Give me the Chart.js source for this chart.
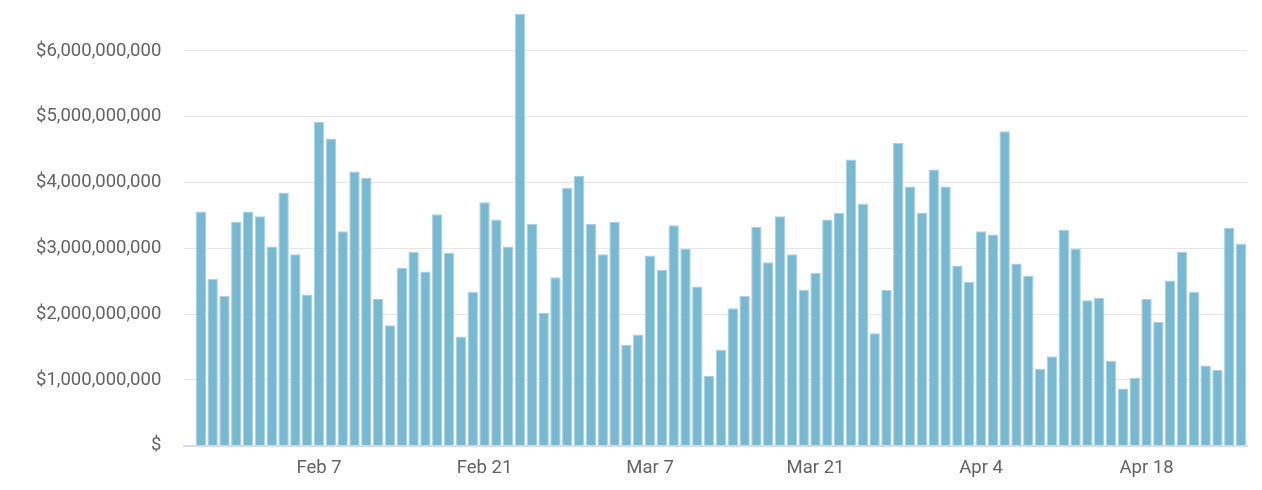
<!DOCTYPE html>
<html>
<head>
<meta charset="utf-8">
<script src="https://cdn.jsdelivr.net/npm/chart.js@4"></script>
<style>
  html, body { margin: 0; padding: 0; background: #ffffff; }
  #wrap { width: 1262px; height: 490px; }
</style>
</head>
<body>
<div id="wrap"><canvas id="c" width="1262" height="490"></canvas></div>
<script>
const categories = [
  "Jan 28","Jan 29","Jan 30","Jan 31",
  "Feb 1","Feb 2","Feb 3","Feb 4","Feb 5","Feb 6","Feb 7","Feb 8","Feb 9","Feb 10",
  "Feb 11","Feb 12","Feb 13","Feb 14","Feb 15","Feb 16","Feb 17","Feb 18","Feb 19","Feb 20",
  "Feb 21","Feb 22","Feb 23","Feb 24","Feb 25","Feb 26","Feb 27","Feb 28",
  "Mar 1","Mar 2","Mar 3","Mar 4","Mar 5","Mar 6","Mar 7","Mar 8","Mar 9","Mar 10",
  "Mar 11","Mar 12","Mar 13","Mar 14","Mar 15","Mar 16","Mar 17","Mar 18","Mar 19","Mar 20",
  "Mar 21","Mar 22","Mar 23","Mar 24","Mar 25","Mar 26","Mar 27","Mar 28","Mar 29","Mar 30","Mar 31",
  "Apr 1","Apr 2","Apr 3","Apr 4","Apr 5","Apr 6","Apr 7","Apr 8","Apr 9","Apr 10",
  "Apr 11","Apr 12","Apr 13","Apr 14","Apr 15","Apr 16","Apr 17","Apr 18","Apr 19","Apr 20",
  "Apr 21","Apr 22","Apr 23","Apr 24","Apr 25"
];

const values = [
  3.56e9, 2.54e9, 2.28e9, 3.40e9, 3.56e9, 3.49e9, 3.03e9, 3.85e9, 2.91e9, 2.30e9,
  4.92e9, 4.67e9, 3.26e9, 4.17e9, 4.07e9, 2.23e9, 1.83e9, 2.70e9, 2.95e9, 2.65e9,
  3.52e9, 2.93e9, 1.66e9, 2.34e9, 3.70e9, 3.44e9, 3.03e9, 6.56e9, 3.37e9, 2.02e9,
  2.56e9, 3.92e9, 4.10e9, 3.37e9, 2.91e9, 3.40e9, 1.53e9, 1.69e9, 2.89e9, 2.67e9,
  3.35e9, 3.00e9, 2.42e9, 1.06e9, 1.46e9, 2.09e9, 2.28e9, 3.33e9, 2.79e9, 3.49e9,
  2.91e9, 2.37e9, 2.63e9, 3.44e9, 3.54e9, 4.35e9, 3.68e9, 1.71e9, 2.37e9, 4.60e9,
  3.94e9, 3.54e9, 4.20e9, 3.94e9, 2.74e9, 2.49e9, 3.26e9, 3.21e9, 4.78e9, 2.77e9,
  2.58e9, 1.17e9, 1.36e9, 3.28e9, 3.00e9, 2.21e9, 2.25e9, 1.29e9, 0.87e9, 1.03e9,
  2.23e9, 1.88e9, 2.51e9, 2.95e9, 2.34e9, 1.22e9, 1.15e9, 3.31e9, 3.07e9
];

const xTickLabels = ["Feb 7", "Feb 21", "Mar 7", "Mar 21", "Apr 4", "Apr 18"];
const yTickValues = [0, 1e9, 2e9, 3e9, 4e9, 5e9, 6e9];

const points = values.map((v, i) => ({ x: i, y: v }));
const xTickPositions = xTickLabels.map(l => categories.indexOf(l));

function fmtDollars(v) {
  if (v === 0) return "$";
  return "$" + Math.round(v).toLocaleString("en-US");
}

new Chart(document.getElementById("c"), {
  type: "bar",
  data: {
    datasets: [{
      data: points,
      backgroundColor: "#79b8d1",
      borderColor: "#a8d2e2",
      borderWidth: 1,
      categoryPercentage: 0.88,
      barPercentage: 1.0
    }]
  },
  options: {
    responsive: false,
    animation: false,
    layout: { padding: { left: 33, right: 15, top: 1, bottom: 0 } },
    plugins: { legend: { display: false }, tooltip: { enabled: false } },
    scales: {
      x: {
        type: "linear",
        min: -1.4,
        max: categories.length - 1 + 1.5,
        offset: false,
        grid: { display: false, drawTicks: false },
        border: { display: true, color: "#d6daee", width: 2 },
        afterBuildTicks: axis => { axis.ticks = xTickPositions.map(v => ({ value: v })); },
        ticks: {
          autoSkip: false,
          maxRotation: 0,
          padding: 11,
          color: "#636363",
          font: { family: "Roboto", size: 18.5 },
          callback: v => categories[v]
        }
      },
      y: {
        min: 0,
        max: Math.max(...values),
        grid: { color: "#e6e6e6", drawTicks: true, tickLength: 20, tickColor: "rgba(0,0,0,0)", lineWidth: 1 },
        border: { display: false },
        afterBuildTicks: axis => { axis.ticks = yTickValues.map(v => ({ value: v })); },
        ticks: {
          padding: 3,
          color: "#636363",
          font: { family: "Roboto", size: 18.5 },
          callback: v => fmtDollars(v)
        }
      }
    }
  }
});
</script>
</body>
</html>
